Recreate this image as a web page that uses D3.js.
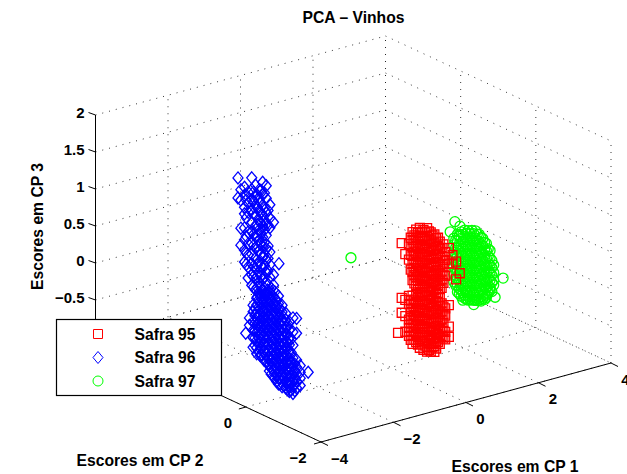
<!DOCTYPE html>
<html>
<head>
<meta charset="utf-8">
<script src="https://cdn.jsdelivr.net/npm/d3@7"></script>
<style>
  html, body { margin: 0; padding: 0; background: #fff; }
  text { font-family: "Liberation Sans", Arial, sans-serif; font-weight: bold; fill: #000; }
</style>
</head>
<body>
<script>
// each row: [CP1, CP2, [CP3 values]]
const safra95 = [
  [0.2, 0, [-0.56]],
  [0.3, 0, [0.64, -0.1, -0.3]],
  [0.4, 0, [0.48, -0.14, -0.36, -0.57]],
  [0.5, 0, [0.6, 0.39, -0.1, -0.21, -0.42, -0.53, -0.64]],
  [0.55, 0, [0.68, 0.45, 0.25, -0.17, -0.28, -0.38, -0.48, -0.59, -0.7]],
  [0.6, 0, [0.75, 0.64, 0.54, 0.43, 0.32, 0.21, 0.1, -0.11, -0.22, -0.33, -0.44, -0.54, -0.65, -0.76]],
  [0.65, 0, [0.7, 0.59, 0.48, 0.37, 0.26, 0.16, 0.05, -0.17, -0.28, -0.38, -0.49, -0.6, -0.71]],
  [0.7, 0, [0.77, 0.66, 0.55, 0.44, 0.33, 0.22, 0.12, 0.01, -0.1, -0.21, -0.32, -0.42, -0.53, -0.64, -0.75]],
  [0.75, 0, [0.72, 0.6, 0.5, 0.4, 0.28, 0.17, 0.07, -0.04, -0.15, -0.25, -0.36, -0.47, -0.58, -0.69, -0.79]],
  [0.8, 0, [0.78, 0.67, 0.56, 0.45, 0.35, 0.24, 0.13, 0.02, -0.09, -0.19, -0.3, -0.41, -0.52, -0.63, -0.74, -0.84]],
  [0.85, 0, [0.72, 0.62, 0.5, 0.4, 0.3, 0.19, 0.08, -0.03, -0.14, -0.25, -0.35, -0.46, -0.57, -0.68, -0.79]],
  [0.9, 0, [0.74, 0.63, 0.52, 0.41, 0.3, 0.2, 0.09, -0.02, -0.12, -0.23, -0.34, -0.45, -0.56, -0.66, -0.77, -0.88]],
  [0.95, 0, [0.7, 0.58, 0.47, 0.36, 0.25, 0.15, 0.04, -0.07, -0.17, -0.28, -0.39, -0.5, -0.61, -0.72, -0.83]],
  [1.0, 0, [0.75, 0.64, 0.54, 0.43, 0.32, 0.21, 0.1, 0, -0.11, -0.22, -0.32, -0.43, -0.54, -0.65, -0.76, -0.86, -0.92]],
  [1.05, 0, [0.7, 0.59, 0.48, 0.38, 0.27, 0.16, 0.05, -0.05, -0.16, -0.27, -0.38, -0.48, -0.59, -0.7, -0.81, -0.9]],
  [1.1, 0, [0.68, 0.58, 0.47, 0.36, 0.25, 0.14, 0.04, -0.07, -0.18, -0.29, -0.39, -0.5, -0.61, -0.72, -0.83, -0.93]],
  [1.15, 0, [0.63, 0.52, 0.42, 0.31, 0.2, 0.09, -0.01, -0.12, -0.23, -0.34, -0.44, -0.55, -0.66, -0.77, -0.88]],
  [1.2, 0, [0.64, 0.53, 0.43, 0.32, 0.21, 0.1, 0, -0.11, -0.22, -0.33, -0.43, -0.54, -0.65, -0.76, -0.87, -0.95]],
  [1.25, 0, [0.58, 0.48, 0.37, 0.26, 0.15, 0.05, -0.05, -0.16, -0.27, -0.38, -0.49, -0.6, -0.7, -0.81, -0.91]],
  [1.3, 0, [0.58, 0.47, 0.36, 0.25, 0.14, 0.04, -0.07, -0.18, -0.29, -0.39, -0.5, -0.61, -0.72, -0.83]],
  [1.35, 0, [0.52, 0.42, 0.3, 0.2, 0.09, -0.01, -0.12, -0.23, -0.34, -0.45, -0.55, -0.66, -0.77, -0.86]],
  [1.4, 0, [0.43, 0.32, 0.21, 0.11, 0, -0.11, -0.32, -0.43, -0.54, -0.65, -0.76]],
  [1.45, 0, [0.47, 0.26, 0.16, 0.05, -0.05, -0.37, -0.48, -0.59, -0.7, -0.8]],
  [1.5, 0, [0.36, 0.25, 0.04, -0.4, -0.5, -0.72, -0.82]],
  [1.6, 0, [0.4, 0.19, -0.37, -0.66, -0.8]],
  [1.7, 0, [0.29, 0.18]],
  [1.8, 0, [0.19, -0.05]],
  [1.9, 0, [0.02]]
];

const safra96 = [
  // upper arm
  [-3.18, 1, [1.75, 1.48]],
  [-3.1, 1, [1.58, 1.44, 1.06, 0.83]],
  [-3.0, 1, [1.6, 1.49, 1.33, 1.24, 1.05, 0.89, 0.75, 0.59]],
  [-2.95, 1, [1.42, 1.18, 0.93, 0.7, 0.55]],
  [-2.9, 1, [1.52, 1.37, 1.25, 0.98, 0.82, 0.67, 0.51, 0.36]],
  [-2.8, 1, [1.7, 1.54, 1.4, 1.27, 1.1, 0.97, 0.82, 0.67, 0.54, 0.39, 0.25]],
  [-2.75, 1, [1.5, 1.38, 1.22, 0.93, 0.78, 0.5, 0.36, 0.22]],
  [-2.7, 1, [1.59, 1.44, 1.32, 1.17, 1.04, 0.89, 0.74, 0.6, 0.46, 0.32, 0.17]],
  [-2.65, 1, [1.45, 1.28, 1.05, 0.9, 0.76, 0.5, 0.35, 0.2, 0.07]],
  [-2.6, 1, [1.51, 1.37, 1.23, 1.1, 0.97, 0.83, 0.69, 0.54, 0.4, 0.27, 0.12]],
  [-2.55, 1, [1.5, 1.33, 1.2, 1.05, 0.92, 0.77, 0.63, 0.48, 0.34, 0.19, 0.05]],
  [-2.5, 1, [1.6, 1.44, 1.29, 1.16, 1.01, 0.86, 0.73, 0.58, 0.44, 0.29, 0.14, 0.01]],
  [-2.45, 1, [1.45, 1.25, 1.08, 0.95, 0.78, 0.62, 0.47, 0.31, 0.16, 0.02]],
  [-2.4, 1, [1.54, 1.37, 1.17, 1.02, 0.87, 0.69, 0.54, 0.37, 0.23, 0.08]],
  [-2.35, 1, [1.2, 1, 0.72, 0.55, 0.38, 0.2, 0.06]],
  [-2.3, 1, [1.27, 1.09, 0.96, 0.63, 0.46, 0.29, 0.12]],
  [-2.2, 1, [1.02, 0.31, 0.17]],
  [-2.05, 1, [0.44]],
  // lower mass
  [-3.9, 0.1, [-0.04]],
  [-3.9, 0, [0.19, 0.09]],
  [-3.8, 0, [0.35, 0.26, 0.12, 0.01, -0.09, -0.22]],
  [-3.75, 0, [0.3, 0.2, 0.1, 0, -0.1, -0.2]],
  [-3.7, 0, [0.43, 0.34, 0.24, 0.16, 0.07, -0.03, -0.14, -0.24, -0.32]],
  [-3.65, 0, [0.4, 0.3, 0.2, 0.1, 0, -0.1, -0.2, -0.3]],
  [-3.6, 0, [0.47, 0.38, 0.28, 0.2, 0.11, 0.01, -0.08, -0.18, -0.27, -0.36]],
  [-3.55, 0, [0.44, 0.34, 0.24, 0.14, 0.04, -0.06, -0.16, -0.26, -0.36]],
  [-3.5, 0, [0.49, 0.41, 0.31, 0.23, 0.14, 0.04, -0.04, -0.14, -0.23, -0.32, -0.43]],
  [-3.45, 0, [0.45, 0.36, 0.27, 0.18, 0.09, 0, -0.09, -0.18, -0.27, -0.36, -0.45]],
  [-3.4, 0, [0.5, 0.42, 0.34, 0.24, 0.15, 0.07, -0.03, -0.12, -0.22, -0.31, -0.41, -0.5]],
  [-3.35, 0, [0.46, 0.38, 0.3, 0.21, 0.12, 0.03, -0.06, -0.15, -0.24, -0.33, -0.42, -0.51, -0.6]],
  [-3.3, 0, [0.51, 0.43, 0.35, 0.26, 0.16, 0.08, -0.01, -0.09, -0.19, -0.28, -0.38, -0.47, -0.57, -0.65]],
  [-3.25, 0, [0.4, 0.3, 0.22, 0.13, 0.04, -0.05, -0.14, -0.23, -0.32, -0.42, -0.51, -0.6, -0.68]],
  [-3.2, 0, [0.45, 0.35, 0.26, 0.18, 0.08, -0.01, -0.09, -0.19, -0.28, -0.38, -0.47, -0.55, -0.64, -0.72]],
  [-3.15, 0, [0.33, 0.24, 0.14, 0.05, -0.04, -0.13, -0.22, -0.31, -0.4, -0.5, -0.59, -0.68, -0.77]],
  [-3.1, 0, [0.38, 0.28, 0.19, 0.09, 0.01, -0.08, -0.18, -0.27, -0.35, -0.45, -0.54, -0.64, -0.73, -0.81]],
  [-3.05, 0, [0.2, 0.1, 0, -0.09, -0.18, -0.27, -0.37, -0.46, -0.55, -0.64, -0.73, -0.82]],
  [-3.0, 0, [0.24, 0.15, 0.05, -0.04, -0.14, -0.23, -0.32, -0.42, -0.5, -0.59, -0.69, -0.77, -0.86]],
  [-2.95, 0, [0.07, -0.02, -0.11, -0.21, -0.3, -0.4, -0.49, -0.59, -0.68, -0.76, -0.85]],
  [-2.9, 0, [0.12, 0.03, -0.07, -0.16, -0.26, -0.35, -0.45, -0.54, -0.64, -0.72, -0.81, -0.89]],
  [-2.85, 0, [-0.06, -0.17, -0.28, -0.37, -0.47, -0.56, -0.66, -0.75, -0.84, -0.92]],
  [-2.8, 0, [-0.01, -0.12, -0.23, -0.32, -0.42, -0.51, -0.61, -0.7, -0.8, -0.88, -0.95]],
  [-2.75, 0, [-0.25, -0.43, -0.56, -0.65, -0.75, -0.85, -0.94]],
  [-2.7, 0, [0.03, -0.16, -0.34, -0.51, -0.61, -0.7, -0.8, -0.89, -0.99]],
  [-2.65, 0, [-0.6, -0.7, -0.79, -0.88, -0.96]],
  [-2.6, 0, [0.01, -0.19, -0.55, -0.65, -0.74, -0.84, -0.93]],
  [-2.5, 0, [-0.64, -0.73, -0.81, -0.91]],
  [-2.28, 0, [-0.76]]
];

const safra97 = [
  [-1.1, 0, [0.63]],
  [0.6, -1, [0.99]],
  [0.73, -1, [1.11]],
  [0.87, -1, [1.03]],
  [0.7, -1, [0.89, 0.8, 0.7, 0.6, 0.5, 0.4, 0.3]],
  [0.75, -1, [0.85, 0.75, 0.65, 0.55, 0.45, 0.35, 0.25]],
  [0.8, -1, [0.93, 0.84, 0.74, 0.64, 0.54, 0.44, 0.34, 0.24, 0.15]],
  [0.85, -1, [0.9, 0.79, 0.69, 0.59, 0.49, 0.39, 0.29, 0.19, 0.12]],
  [0.9, -1, [0.95, 0.86, 0.76, 0.66, 0.56, 0.46, 0.36, 0.26, 0.16, 0.08]],
  [0.95, -1, [0.91, 0.81, 0.71, 0.61, 0.51, 0.41, 0.31, 0.21, 0.12, 0.02]],
  [1.0, -1, [0.96, 0.87, 0.77, 0.67, 0.57, 0.47, 0.37, 0.27, 0.17, 0.08, 0.04]],
  [1.05, -1, [0.91, 0.82, 0.72, 0.62, 0.52, 0.42, 0.32, 0.22, 0.12, 0.02]],
  [1.1, -1, [0.94, 0.84, 0.74, 0.64, 0.54, 0.44, 0.34, 0.24, 0.14, 0.05, 0]],
  [1.15, -1, [0.89, 0.79, 0.69, 0.59, 0.49, 0.39, 0.29, 0.19, 0.09, 0]],
  [1.2, -1, [0.93, 0.83, 0.73, 0.63, 0.53, 0.43, 0.33, 0.23, 0.13, 0.03, -0.01]],
  [1.25, -1, [0.88, 0.78, 0.68, 0.58, 0.48, 0.38, 0.28, 0.18, 0.08, -0.02, -0.08]],
  [1.3, -1, [0.91, 0.81, 0.71, 0.61, 0.51, 0.41, 0.31, 0.21, 0.11, 0.01, -0.03]],
  [1.35, -1, [0.86, 0.76, 0.66, 0.56, 0.46, 0.36, 0.26, 0.16, 0.06, -0.04]],
  [1.4, -1, [0.85, 0.75, 0.65, 0.55, 0.45, 0.35, 0.25, 0.15, 0.05, -0.04]],
  [1.45, -1, [0.8, 0.7, 0.6, 0.5, 0.4, 0.3, 0.2, 0.1, 0, -0.06]],
  [1.5, -1, [0.78, 0.68, 0.58, 0.48, 0.38, 0.28, 0.18, 0.08, -0.03]],
  [1.55, -1, [0.72, 0.62, 0.52, 0.42, 0.32, 0.22, 0.12, 0.02, -0.05]],
  [1.6, -1, [0.7, 0.6, 0.5, 0.4, 0.3, 0.2, 0.1, 0, -0.03]],
  [1.65, -1, [0.62, 0.52, 0.42, 0.32, 0.22, 0.12, 0.02]],
  [1.7, -1, [0.59, 0.49, 0.39, 0.29, 0.19, 0.09, 0.05]],
  [1.75, -1, [0.45, 0.35, 0.25, 0.15, 0.03]],
  [1.8, -1, [0.38, 0.28, 0.18, 0.11]],
  [1.84, -1, [-0.06]],
  [2.06, -1, [0.17]]
];

const cp1Ticks = [-4, -2, 0, 2, 4];
const cp2Ticks = [-2, 0, 2, 4];
const cp3Ticks = [-1, -0.5, 0, 0.5, 1, 1.5, 2];
const legendNames = ["Safra 95", "Safra 96", "Safra 97"];

const width = 627, height = 474;

// front corner of the floor is (cp1 -4, cp2 -2, cp3 -1)
const x1 = d3.scaleLinear().domain([-4, 4]).range([321, 611]);
const y1 = d3.scaleLinear().domain([-4, 4]).range([0, -79]);
const x2 = d3.scaleLinear().domain([-2, 4]).range([0, -225.5]);
const y2 = d3.scaleLinear().domain([-2, 4]).range([442, 337]);
const y3 = d3.scaleLinear().domain([-1, 2]).range([0, -222]);

const project = (a, b, c) => [x1(a) + x2(b), y1(a) + y2(b) + y3(c)];
const fmt = v => String(v).replace("-", "\u2212");
const points = rows => rows.flatMap(r => r[2].map(z => project(r[0], r[1], z)));

const svg = d3.select("body").append("svg")
  .attr("width", width)
  .attr("height", height)
  .style("display", "block");

const line3 = (g, from, to, cls) => {
  const p = project(...from), q = project(...to);
  return g.append("line").attr("class", cls)
    .attr("x1", p[0]).attr("y1", p[1]).attr("x2", q[0]).attr("y2", q[1]);
};

// dotted grid on the two back walls and the floor
const grid = svg.append("g")
  .attr("stroke", "#222")
  .attr("stroke-width", 0.9)
  .attr("stroke-dasharray", "1 6");

cp1Ticks.forEach(a => {
  line3(grid, [a, -2, -1], [a, 4, -1], "grid");
  line3(grid, [a, 4, -1], [a, 4, 2], "grid");
});
cp2Ticks.forEach(b => {
  line3(grid, [-4, b, -1], [4, b, -1], "grid");
  line3(grid, [4, b, -1], [4, b, 2], "grid");
});
cp3Ticks.forEach(c => {
  line3(grid, [-4, 4, c], [4, 4, c], "grid");
  line3(grid, [4, 4, c], [4, -2, c], "grid");
});

// axes
const axes = svg.append("g").attr("stroke", "#000").attr("stroke-width", 1);
line3(axes, [-4, 4, -1], [-4, 4, 2], "axis");
line3(axes, [-4, -2, -1], [-4, 4, -1], "axis");
line3(axes, [-4, -2, -1], [4, -2, -1], "axis");

const tick = (at, dx, dy) => {
  const p = project(...at);
  axes.append("line")
    .attr("x1", p[0]).attr("y1", p[1])
    .attr("x2", p[0] + dx).attr("y2", p[1] + dy);
  return p;
};
const label = (x, y, s) => svg.append("text")
  .attr("x", x).attr("y", y)
  .attr("text-anchor", "middle")
  .attr("dominant-baseline", "central")
  .attr("font-size", 15)
  .text(s);

// cp3 = -1 and cp2 = 2, 4 sit behind the legend box, so only their ticks are drawn
cp3Ticks.forEach(c => {
  const p = tick([-4, 4, c], -7, -2.5);
  if (c > -1) label(p[0] - 11, p[1] - 2.5, fmt(c)).attr("text-anchor", "end");
});
cp1Ticks.forEach(a => {
  const p = tick([a, -2, -1], 7, 3.5);
  label(p[0] + (a < 0 ? 18.5 : 14.5), p[1] + 16, fmt(a));
});
cp2Ticks.forEach(b => {
  const p = tick([-4, b, -1], -7, 2);
  if (b < 2) label(p[0] - (b < 0 ? 23 : 18), p[1] + 15, fmt(b));
});

// markers
const square = d3.symbol().type(d3.symbolSquare).size(81)();
const diamond = "M0,-6L5,0L0,6L-5,0Z";
const ring = d3.symbol().type(d3.symbolCircle).size(Math.PI * 25)();

const drawSeries = (rows, path, color) => svg.append("g")
  .attr("fill", "none")
  .attr("stroke", color)
  .attr("stroke-width", 1.3)
  .selectAll("path")
  .data(points(rows))
  .join("path")
  .attr("d", path)
  .attr("transform", d => `translate(${d[0]},${d[1]})`);

drawSeries(safra97, ring, "#00ff00");
drawSeries(safra96, diamond, "#0000ff");
drawSeries(safra95, square, "#ff0000");

// titles
const bold = (x, y, s) => svg.append("text")
  .attr("x", x).attr("y", y)
  .attr("text-anchor", "middle")
  .attr("font-size", 15.7)
  .text(s);

bold(353.5, 23, "PCA \u2013 Vinhos");
bold(140, 466, "Escores em CP 2");
bold(515, 472, "Escores em CP 1");
bold(0, 0, "Escores em CP 3")
  .attr("transform", "translate(43,226.5) rotate(-90)");

// legend
const legend = svg.append("g");
legend.append("rect")
  .attr("x", 56.5).attr("y", 319.5)
  .attr("width", 165).attr("height", 76)
  .attr("fill", "#fff")
  .attr("stroke", "#000")
  .attr("stroke-width", 1.2);

const legendMarks = [square, diamond, ring];
const legendColors = ["#ff0000", "#0000ff", "#00ff00"];
const legendY = d3.scalePoint().domain(legendNames).range([334, 381]);

legendNames.forEach((name, i) => {
  legend.append("path")
    .attr("d", legendMarks[i])
    .attr("transform", `translate(98,${legendY(name)})`)
    .attr("fill", "none")
    .attr("stroke", legendColors[i]);
  legend.append("text")
    .attr("x", 134.5)
    .attr("y", legendY(name))
    .attr("dominant-baseline", "central")
    .attr("font-size", 15.7)
    .text(name);
});
</script>
</body>
</html>
